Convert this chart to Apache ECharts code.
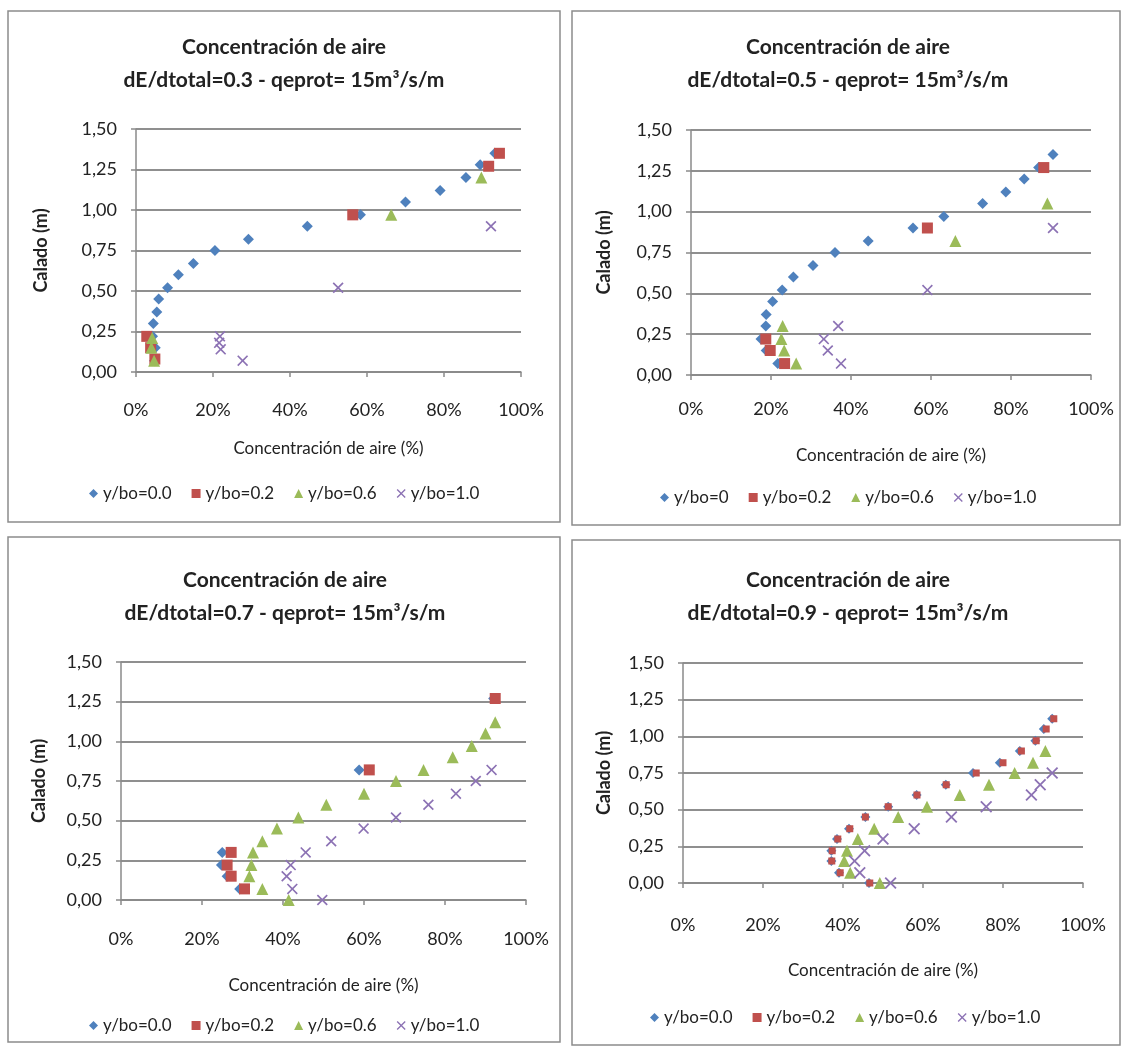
<!DOCTYPE html>
<html><head><meta charset="utf-8">
<script src="https://cdn.jsdelivr.net/npm/echarts@6/dist/echarts.min.js"></script>
<style>html,body{margin:0;padding:0;background:#fff}#c{width:1123px;height:1049px}</style>
</head><body><div id="c"></div>
<script>
// ---------- tick labels ----------
const xTickValues = [0, 20, 40, 60, 80, 100];
const xTickLabels = ['0%', '20%', '40%', '60%', '80%', '100%'];
const yTickValues = [0, 0.25, 0.5, 0.75, 1.0, 1.25, 1.5];
const yTickLabels = ['0,00', '0,25', '0,50', '0,75', '1,00', '1,25', '1,50'];

// ---------- titles / names ----------
const mainTitle = 'Concentración de aire';
const subTitles = [
  'dE/dtotal=0.3 - qeprot= 15m³/s/m',
  'dE/dtotal=0.5 - qeprot= 15m³/s/m',
  'dE/dtotal=0.7 - qeprot= 15m³/s/m',
  'dE/dtotal=0.9 - qeprot= 15m³/s/m'
];
const xAxisName = 'Concentración de aire (%)';
const yAxisName = 'Calado (m)';
const seriesNamesA = ['y/bo=0.0', 'y/bo=0.2', 'y/bo=0.6', 'y/bo=1.0'];
const seriesNamesB = ['y/bo=0', 'y/bo=0.2', 'y/bo=0.6', 'y/bo=1.0'];

// ---------- data: [concentración (%), calado (m)] ----------
// Panel 1: dE/dtotal = 0.3
const p1_y00 = [[93.2,1.35],[89.4,1.28],[85.7,1.20],[79.0,1.12],[70.0,1.05],[58.3,0.97],[44.5,0.90],[29.2,0.82],[20.5,0.75],[14.9,0.67],[11.0,0.60],[8.2,0.52],[5.9,0.45],[5.4,0.37],[4.5,0.30],[4.3,0.22],[5.0,0.15],[4.8,0.07]];
const p1_y02 = [[94.4,1.35],[91.6,1.27],[56.3,0.97],[2.8,0.22],[3.8,0.15],[4.9,0.08]];
const p1_y06 = [[89.7,1.20],[66.3,0.97],[4.2,0.21],[4.0,0.15],[4.7,0.07]];
const p1_y10 = [[92.2,0.90],[52.5,0.52],[21.8,0.22],[21.6,0.18],[22.0,0.14],[27.7,0.07]];
// Panel 2: dE/dtotal = 0.5
const p2_y00 = [[90.5,1.35],[86.9,1.27],[83.3,1.20],[78.7,1.12],[72.9,1.05],[63.2,0.97],[55.5,0.90],[44.3,0.82],[36.0,0.75],[30.5,0.67],[25.6,0.60],[22.8,0.52],[20.4,0.45],[18.8,0.37],[18.7,0.30],[17.5,0.22],[18.8,0.15],[21.7,0.07]];
const p2_y02 = [[88.2,1.27],[59.1,0.90],[18.7,0.22],[19.8,0.15],[23.4,0.07]];
const p2_y06 = [[89.1,1.05],[66.1,0.82],[22.9,0.30],[22.6,0.22],[23.3,0.15],[26.3,0.07]];
const p2_y10 = [[90.5,0.90],[59.1,0.52],[36.8,0.30],[33.2,0.22],[34.2,0.15],[37.5,0.07]];
// Panel 3: dE/dtotal = 0.7
const p3_y00 = [[92.0,1.27],[58.8,0.82],[25.0,0.30],[24.8,0.22],[26.2,0.15],[29.3,0.07]];
const p3_y02 = [[92.4,1.27],[61.3,0.82],[27.2,0.30],[26.2,0.22],[27.2,0.15],[30.5,0.07]];
const p3_y06 = [[92.4,1.12],[90.0,1.05],[86.6,0.97],[81.9,0.90],[74.7,0.82],[67.9,0.75],[60.0,0.67],[50.7,0.60],[43.8,0.52],[38.5,0.45],[34.9,0.37],[32.6,0.30],[32.2,0.22],[31.7,0.15],[34.9,0.07],[41.4,0.00]];
const p3_y10 = [[91.5,0.82],[87.6,0.75],[82.7,0.67],[75.9,0.60],[67.9,0.52],[59.9,0.45],[51.9,0.37],[45.6,0.30],[41.9,0.22],[40.9,0.15],[42.3,0.07],[49.7,0.00]];
// Panel 4: dE/dtotal = 0.9
const p4_y00 = [[92.3,1.12],[90.2,1.05],[88.1,0.97],[84.2,0.90],[79.2,0.82],[72.5,0.75],[65.7,0.67],[58.4,0.60],[51.3,0.52],[45.6,0.45],[41.5,0.37],[38.5,0.30],[37.1,0.22],[37.1,0.15],[39.0,0.07],[46.5,0.00]];
const p4_y02 = [[92.7,1.12],[90.8,1.05],[88.3,0.97],[84.6,0.90],[80.0,0.82],[73.3,0.75],[65.8,0.67],[58.5,0.60],[51.3,0.52],[45.6,0.45],[41.7,0.37],[38.7,0.30],[37.3,0.22],[37.2,0.15],[39.3,0.07],[46.7,0.00]];
const p4_y06 = [[90.6,0.90],[87.5,0.82],[82.9,0.75],[76.5,0.67],[69.2,0.60],[61.0,0.52],[53.8,0.45],[47.8,0.37],[43.7,0.30],[41.0,0.22],[40.3,0.15],[41.8,0.07],[49.2,0.00]];
const p4_y10 = [[92.3,0.75],[89.3,0.67],[87.1,0.60],[75.8,0.52],[67.1,0.45],[57.8,0.37],[50.0,0.30],[45.4,0.22],[42.9,0.15],[44.2,0.07],[51.9,0.00]];

const panelData = [
  [p1_y00, p1_y02, p1_y06, p1_y10],
  [p2_y00, p2_y02, p2_y06, p2_y10],
  [p3_y00, p3_y02, p3_y06, p3_y10],
  [p4_y00, p4_y02, p4_y06, p4_y10]
];
const panelNames = [seriesNamesA, seriesNamesB, seriesNamesA, seriesNamesA];

// ---------- styling / layout ----------
const FONT = 'Lato, "Open Sans", sans-serif';
const TXT = '#222';
const colors = ['#4F81BD', '#C0504D', '#9BBB59', '#8C72B4'];
const crossPath = 'path://M1.5,0L7,5.5L12.5,0L14,1.5L8.5,7L14,12.5L12.5,14L7,8.5L1.5,14L0,12.5L5.5,7L0,1.5Z';
const symbols = ['diamond', 'rect', 'triangle', crossPath];
const symbolSizes = [
  [11, 11, 12, 11],
  [11, 11, 12, 11],
  [11, 11, 12, 11],
  [10, 7, 12, 12]
];
const layouts = [
  {box:[8,11,552,511],   grid:{left:136,top:129,width:385,height:243}, cx:284, ty:47,  lblM:29, nameGap:68, yNameGap:86, legLeft:84,  legMid:490},
  {box:[572,11,548,514], grid:{left:691,top:130,width:400,height:245}, cx:848, ty:47,  lblM:25, nameGap:72, yNameGap:78, legLeft:655, legMid:494},
  {box:[8,537,552,505],  grid:{left:121,top:662,width:405,height:238}, cx:285, ty:580, lblM:30, nameGap:77, yNameGap:73, legLeft:84,  legMid:1022},
  {box:[572,540,548,505],grid:{left:683,top:663,width:400,height:220}, cx:848, ty:580, lblM:33, nameGap:79, yNameGap:70, legLeft:645, legMid:1014}
];
</script>
<script>
const grids = [], xAxes = [], yAxes = [], series = [], legends = [], graphics = [];
layouts.forEach((L, i) => {
  grids.push(Object.assign({}, L.grid));
  xAxes.push({
    type: 'value', gridIndex: i, min: 0, max: 100, interval: 20,
    name: xAxisName, nameLocation: 'middle', nameGap: L.nameGap,
    nameTextStyle: {fontFamily: FONT, fontSize: 17, color: TXT},
    axisLine: {show: true, lineStyle: {color: '#8a8a8a', width: 1.5}},
    axisTick: {show: true, length: 5, lineStyle: {color: '#8a8a8a', width: 1.5}},
    splitLine: {show: false},
    axisLabel: {margin: L.lblM, fontFamily: FONT, fontSize: 18, color: TXT,
      formatter: v => { const k = xTickValues.indexOf(v); return k >= 0 ? xTickLabels[k] : ''; }}
  });
  yAxes.push({
    type: 'value', gridIndex: i, min: 0, max: 1.5, interval: 0.25,
    name: yAxisName, nameLocation: 'middle', nameGap: L.yNameGap, nameRotate: 90,
    nameTextStyle: {fontFamily: FONT, fontSize: 18, fontWeight: 'bold', color: TXT},
    axisLine: {show: true, lineStyle: {color: '#8a8a8a', width: 1.5}},
    axisTick: {show: true, length: 5, lineStyle: {color: '#8a8a8a', width: 1.5}},
    splitLine: {show: true, lineStyle: {color: '#8f8f8f', width: 2}},
    axisLabel: {margin: 19, fontFamily: FONT, fontSize: 18, color: TXT,
      formatter: v => { const k = yTickValues.findIndex(t => Math.abs(t - v) < 1e-6); return k >= 0 ? yTickLabels[k] : ''; }}
  });
  const names = panelNames[i];
  panelData[i].forEach((d, s) => {
    series.push({
      type: 'scatter', name: names[s], xAxisIndex: i, yAxisIndex: i,
      data: d, symbol: symbols[s], symbolSize: symbolSizes[i][s],
      itemStyle: {color: colors[s], opacity: 1},
      z: 2 + s
    });
  });
  legends.push({
    left: L.legLeft, top: L.legMid - 10, orient: 'horizontal',
    itemWidth: 9, itemHeight: 9, itemGap: 20,
    textStyle: {fontFamily: FONT, fontSize: 17, color: TXT},
    selectedMode: false,
    data: names.map((n, s) => ({name: n, icon: symbols[s]}))
  });
  graphics.push({
    type: 'rect', shape: {x: L.box[0], y: L.box[1], width: L.box[2], height: L.box[3]},
    style: {fill: 'none', stroke: '#8c8c8c', lineWidth: 1.5}, silent: true, z: -1
  });
  graphics.push({
    type: 'text', x: L.cx, y: L.ty, silent: true,
    style: {text: mainTitle, fontFamily: FONT, fontSize: 21, fontWeight: 'bold', fill: TXT, align: 'center', verticalAlign: 'middle'}
  });
  graphics.push({
    type: 'text', x: L.cx, y: L.ty + 33, silent: true,
    style: {text: subTitles[i], fontFamily: FONT, fontSize: 21, fontWeight: 'bold', fill: TXT, align: 'center', verticalAlign: 'middle'}
  });
});

const chart = echarts.init(document.getElementById('c'), null, {renderer: 'canvas'});
chart.setOption({
  animation: false,
  backgroundColor: '#fff',
  grid: grids, xAxis: xAxes, yAxis: yAxes, series: series, legend: legends,
  graphic: graphics
});
</script></body></html>
